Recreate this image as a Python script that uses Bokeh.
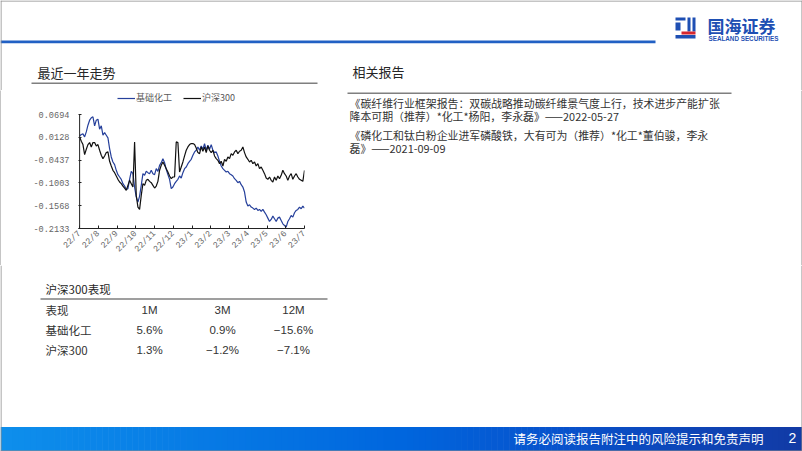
import numpy as np
from bokeh.plotting import figure
from bokeh.layouts import column, row
from bokeh.models import Range1d, FixedTicker, Legend, LegendItem
from bokeh.core.properties import value
from bokeh.embed import file_html
from bokeh.resources import INLINE

# ---------------- data ----------------
months = np.linspace(0, 12, 136)   # sample times, months since 2022/7
chem = [0.0163, 0.0197, 0.0213, 0.0139, 0.0263, 0.0429, 0.0553, 0.0611, 0.0636, 0.0412,
        0.0553, 0.0578, 0.0329, 0.0412, 0.0180, 0.0246, 0.0180, 0.0114, -0.0152, -0.0359,
        -0.0483, -0.0550, -0.0690, -0.0798, -0.0856, -0.0914, -0.1022, -0.1080, -0.1163, -0.1146,
        -0.0914, -0.0715, -0.0773, -0.1105, -0.1354, -0.1478, -0.1329, -0.1063, -0.0773, -0.0815,
        -0.0715, -0.0748, -0.0773, -0.0690, -0.0773, -0.0798, -0.0649, -0.0715, -0.0566, -0.0500,
        -0.0400, -0.0500, -0.0666, -0.0798, -0.0914, -0.1146, -0.1105, -0.1022, -0.0964, -0.0914,
        -0.0831, -0.0881, -0.0748, -0.0649, -0.0608, -0.0525, -0.0467, -0.0417, -0.0317, -0.0234,
        -0.0193, -0.0110, -0.0193, -0.0085, -0.0168, -0.0027, -0.0193, -0.0069, -0.0168, -0.0052,
        -0.0193, -0.0251, -0.0234, -0.0334, -0.0467, -0.0583, -0.0649, -0.0690, -0.0732, -0.0715,
        -0.0773, -0.0798, -0.0831, -0.0898, -0.0939, -0.0997, -0.0964, -0.1047, -0.1105, -0.1229,
        -0.1478, -0.1577, -0.1544, -0.1602, -0.1627, -0.1660, -0.1627, -0.1685, -0.1660, -0.1710,
        -0.1660, -0.1727, -0.1793, -0.1876, -0.1959, -0.1909, -0.1826, -0.1892, -0.1959, -0.1876,
        -0.1851, -0.1934, -0.2017, -0.2058, -0.2100, -0.1959, -0.1892, -0.1810, -0.1851, -0.1743,
        -0.1685, -0.1660, -0.1602, -0.1644, -0.1577, -0.1627]
hs300 = [0.0139, 0.0031, -0.0052, -0.0301, -0.0168, -0.0052, -0.0002, -0.0110, -0.0002, -0.0002,
         -0.0085, -0.0052, -0.0193, -0.0317, -0.0400, -0.0334, -0.0251, -0.0234, -0.0467, -0.0583,
         -0.0690, -0.0748, -0.0831, -0.0914, -0.0980, -0.1022, -0.1080, -0.1130, -0.1188, -0.1063,
         -0.0939, -0.1022, -0.1105, 0.0014, -0.1312, -0.1602, -0.1660, -0.1312, -0.1022, -0.1063,
         -0.0939, -0.0914, -0.0964, -0.0997, -0.1063, -0.1130, -0.1080, -0.0964, -0.0690, -0.0566,
         -0.0483, -0.0566, -0.0649, -0.0732, -0.0831, -0.0898, -0.0856, -0.0856, 0.0014, -0.0002,
         -0.0732, -0.0608, -0.0483, -0.0334, -0.0193, -0.0110, -0.0052, -0.0027, -0.0027, -0.0052,
         -0.0135, -0.0251, -0.0276, -0.0110, -0.0218, -0.0110, -0.0251, -0.0085, -0.0193, -0.0251,
         -0.0193, -0.0334, -0.0400, -0.0442, -0.0525, -0.0467, -0.0583, -0.0417, -0.0467, -0.0359,
         -0.0400, -0.0276, -0.0317, -0.0234, -0.0193, -0.0276, -0.0218, -0.0193, -0.0110, -0.0251,
         -0.0359, -0.0417, -0.0483, -0.0442, -0.0525, -0.0483, -0.0583, -0.0525, -0.0649, -0.0608,
         -0.0690, -0.0773, -0.0881, -0.0914, -0.0856, -0.0939, -0.0980, -0.0856, -0.0939, -0.0831,
         -0.0898, -0.0815, -0.0690, -0.0773, -0.0831, -0.0939, -0.0831, -0.0773, -0.0914, -0.0831,
         -0.0773, -0.0856, -0.0914, -0.0939, -0.0964, -0.0690]
series_names = ["基础化工", "沪深300"]
x_tick_labels = ["22/7", "22/8", "22/9", "22/10", "22/11", "22/12", "23/1",
                 "23/2", "23/3", "23/4", "23/5", "23/6", "23/7"]
y_ticks = [0.0694, 0.0128, -0.0437, -0.1003, -0.1568, -0.2133]
y_tick_labels = ["0.0694", "0.0128", "-0.0437", "-0.1003", "-0.1568", "-0.2133"]

table_header = ["表现", "1M", "3M", "12M"]
table_row_names = ["基础化工", "沪深300"]
table_values = [["5.6%", "0.9%", "\u221215.6%"],
                ["1.3%", "\u22121.2%", "\u22127.1%"]]
report_lines = ["《碳纤维行业框架报告：双碳战略推动碳纤维景气度上行，技术进步产能扩张",
                "降本可期（推荐）*化工*杨阳，李永磊》——2022-05-27",
                "《磷化工和钛白粉企业进军磷酸铁，大有可为（推荐）*化工*董伯骏，李永",
                "磊》——2021-09-09"]

CJK = "Noto Sans CJK SC"
SANS = "Liberation Sans"
MONO = "Liberation Mono"
BORDER = "#8c8c8c"


def panel(x0, x1, y0, y1, fill="white"):
    f = figure(width=x1 - x0, height=y1 - y0, x_range=Range1d(x0, x1), y_range=Range1d(y1, y0),
               toolbar_location=None, output_backend="svg", min_border=0,
               x_axis_location=None, y_axis_location=None, sizing_mode="fixed")
    f.grid.visible = False
    f.outline_line_color = None
    f.background_fill_color = fill
    f.border_fill_color = fill
    f.margin = (0, 0, 0, 0)
    f.frame_align = False
    return f


def txt(f, x, y, s, size, color="#262626", font=CJK, align="left", style="normal"):
    f.text(x=[x], y=[y], text=[s], text_font=value(font), text_font_size=size,
           text_color=color, text_align=align, text_baseline="middle", text_font_style=style)


def vborder(f, x, y0, y1):
    f.segment(x0=[x], y0=[y0], x1=[x], y1=[y1], line_color=BORDER, line_width=1)


# ---------------- top panel (0..802 x 0..90) ----------------
top = panel(0, 802, 0, 90)
top.quad(left=[0], right=[655], top=[40], bottom=[42.7], fill_color="#2160C4", line_color=None)
top.quad(left=[675, 675, 687, 692, 675], right=[685, 680, 690, 695, 695],
         top=[17, 22, 17, 17, 34.5], bottom=[20, 30, 31, 31, 38],
         fill_color="#1E4FB3", line_color=None)
top.quad(left=[681], right=[695], top=[31], bottom=[34], fill_color="#D7262E", line_color=None)
txt(top, 707, 25, "国海证券", "17px", color="#1E4FB3", style="bold")
txt(top, 708, 38, "SEALAND SECURITIES", "6.3px", color="#1E4FB3", font=SANS, style="bold")
txt(top, 37, 71.5, "最近一年走势", "13px")
top.segment(x0=[31], y0=[82.8], x1=[317], y1=[82.8], line_color="#7f7f7f", line_width=1.6)
txt(top, 352, 71, "相关报告", "13px")
top.segment(x0=[0], y0=[0.5], x1=[802], y1=[0.5], line_color=BORDER, line_width=1)
vborder(top, 0.5, 0, 90)
vborder(top, 801.5, 0, 90)

# ---------------- middle-right panel (320..802 x 90..265) ----------------
mid = panel(320, 802, 90, 265)
mid.segment(x0=[347], y0=[92.8], x1=[731], y1=[92.8], line_color="#7f7f7f", line_width=1.6)
for s, yy in zip(report_lines, [102, 115.7, 134.5, 147]):
    txt(mid, 349, yy, s, "10.9px", color="#333333")
vborder(mid, 801.5, 90, 265)

# left border strip beside the chart
strip = panel(0, 1, 90, 265, fill=BORDER)

# ---------------- chart (1..320 x 90..265) ----------------
y_top = y_ticks[0] + (y_ticks[0] - y_ticks[-1]) * 22 / 114   # head-room for the legend
chart = figure(width=319, height=175, x_range=Range1d(-0.06, 12), y_range=Range1d(y_ticks[-1], y_top),
               toolbar_location=None, output_backend="svg", sizing_mode="fixed",
               min_border_left=77, min_border_right=16, min_border_top=2, min_border_bottom=37)
chart.margin = (0, 0, 0, 0)
chart.frame_align = False
chart.grid.visible = False
chart.outline_line_color = None
chart.background_fill_color = "white"
chart.border_fill_color = "white"

r1 = chart.line(months, chem, line_color="#26409B", line_width=1.2)
r2 = chart.line(months, hs300, line_color="#111111", line_width=1.2)
# y-axis line only over the tick span
chart.segment(x0=[0], y0=[y_ticks[-1]], x1=[0], y1=[y_ticks[0]], line_color="#222222", line_width=1)

for ax in (chart.xaxis[0], chart.yaxis[0]):
    ax.axis_line_color = "#222222"
    ax.axis_line_width = 1
    ax.major_tick_in = 3
    ax.major_tick_out = 0
    ax.major_tick_line_color = "#222222"
    ax.minor_tick_line_color = None
    ax.major_label_text_font = MONO
    ax.major_label_text_font_size = "8.6px"
    ax.major_label_text_color = "#666666"

chart.yaxis[0].axis_line_color = None
chart.yaxis[0].ticker = FixedTicker(ticks=y_ticks)
chart.yaxis[0].major_label_overrides = {t: l for t, l in zip(y_ticks, y_tick_labels)}
chart.yaxis[0].major_label_standoff = 9
chart.xaxis[0].ticker = FixedTicker(ticks=list(range(len(x_tick_labels))))
chart.xaxis[0].major_label_overrides = {i: l for i, l in enumerate(x_tick_labels)}
chart.xaxis[0].major_label_orientation = np.pi / 4
chart.xaxis[0].major_label_standoff = 4

legend = Legend(items=[LegendItem(label=series_names[0], renderers=[r1]),
                       LegendItem(label=series_names[1], renderers=[r2])],
                orientation="horizontal", location=(39, 124), padding=0, margin=0, spacing=11,
                glyph_width=18, glyph_height=10, label_height=10, label_standoff=1,
                label_text_font=CJK, label_text_font_size="9px", label_text_color="#595959",
                background_fill_alpha=0, border_line_alpha=0)
chart.add_layout(legend)

# ---------------- bottom panel (0..802 x 265..451) ----------------
bot = panel(0, 802, 265, 451)
txt(bot, 45, 288, "沪深300表现", "11.5px")
bot.segment(x0=[40], y0=[298.5], x1=[327], y1=[298.5], line_color="#7f7f7f", line_width=1.6)
col_x = [149, 222, 293]
txt(bot, 45, 309.5, table_header[0], "11.5px", color="#333333")
for cx, h in zip(col_x, table_header[1:]):
    txt(bot, cx, 309.5, h, "11.5px", color="#333333", font=SANS, align="center")
for ry, name, vals in zip([329.5, 349.5], table_row_names, table_values):
    txt(bot, 45, ry, name, "11.5px", color="#333333")
    for cx, v in zip(col_x, vals):
        txt(bot, cx, ry, v, "11.5px", color="#333333", font=SANS, align="center")

stops_x = [0, 400, 560, 802]
stops_c = [(14, 143, 236), (0, 102, 222), (8, 82, 204), (18, 58, 165)]
edges = np.linspace(0, 802, 135)
cols = []
for a, b in zip(edges[:-1], edges[1:]):
    m = (a + b) / 2
    rgb = [int(round(np.interp(m, stops_x, [c[i] for c in stops_c]))) for i in range(3)]
    cols.append("#%02x%02x%02x" % tuple(rgb))
bot.quad(left=edges[:-1], right=edges[1:] + 0.6, top=[426.5] * len(cols), bottom=[451] * len(cols),
         fill_color=cols, line_color=None)
txt(bot, 763, 437.5, "请务必阅读报告附注中的风险提示和免责声明", "12.5px", color="white", align="right")
txt(bot, 792, 437.5, "2", "14px", color="white", font=SANS, align="center")
vborder(bot, 0.5, 265, 451)
vborder(bot, 801.5, 265, 451)
bot.segment(x0=[0], y0=[450.5], x1=[802], y1=[450.5], line_color=BORDER, line_width=1)

layout = column(top, row(strip, chart, mid, spacing=0), bot, spacing=0)

open("out.html", "w").write(file_html(layout, INLINE))
